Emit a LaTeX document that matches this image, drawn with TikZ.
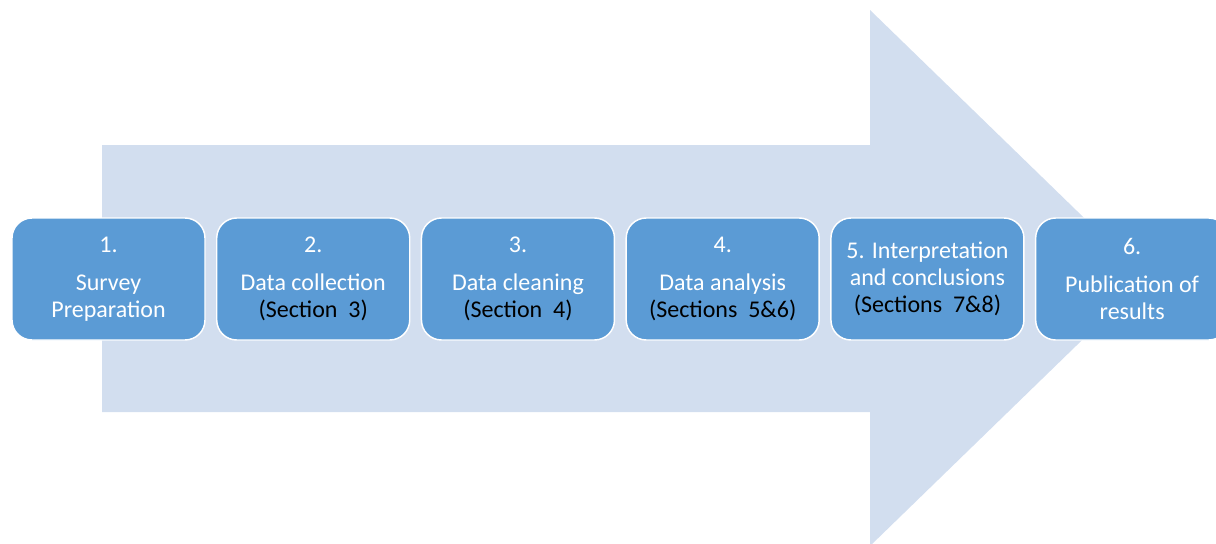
\documentclass[tikz,border=0pt]{standalone}
\usepackage{fontspec}
\setmainfont{Carlito}
\usetikzlibrary{positioning}
\definecolor{boxblue}{RGB}{91,155,213}
\definecolor{arrowblue}{RGB}{210,222,239}

\begin{document}
\begin{tikzpicture}[x=0.75pt,y=-0.75pt]

    % Styles
    \tikzstyle{stage} = [rectangle, rounded corners=15pt, minimum width=144.75pt, minimum height=91.5pt, inner sep=0pt, align=center, draw=white, line width=1.1pt, fill=boxblue, text=white, font=\fontsize{18}{20.25}\selectfont]
    \tikzstyle{bigarrow} = [fill=arrowblue, draw=none]

    \useasboundingbox (0,0) rectangle (1216,543);

    % Big arrow
    \path [bigarrow] (102,145) -- (870,145) -- (870,10) -- (1146,278) -- (870,546) -- (870,412) -- (102,412) -- cycle;

    % Nodes
    \node (prep) [stage] at (108.5,279) {1.\\[8pt]Survey\\Preparation};
    \node (collect) [stage, right=7.7pt of prep] {2.\\[8pt]Data collection\\\textcolor{black}{(Section\ \ 3)}};
    \node (clean) [stage, right=7.7pt of collect] {3.\\[8pt]Data cleaning\\\textcolor{black}{(Section\ \ 4)}};
    \node (analysis) [stage, right=7.7pt of clean] {4.\\[8pt]Data analysis\\\textcolor{black}{(Sections\ \ 5\&6)}};
    \node (interp) [stage, right=7.7pt of analysis] {5. Interpretation\\and conclusions\\\textcolor{black}{(Sections\ \ 7\&8)}};
    \node (publish) [stage, right=7.7pt of interp] {6.\\[8pt]Publication of\\results};

\end{tikzpicture}
\end{document}
